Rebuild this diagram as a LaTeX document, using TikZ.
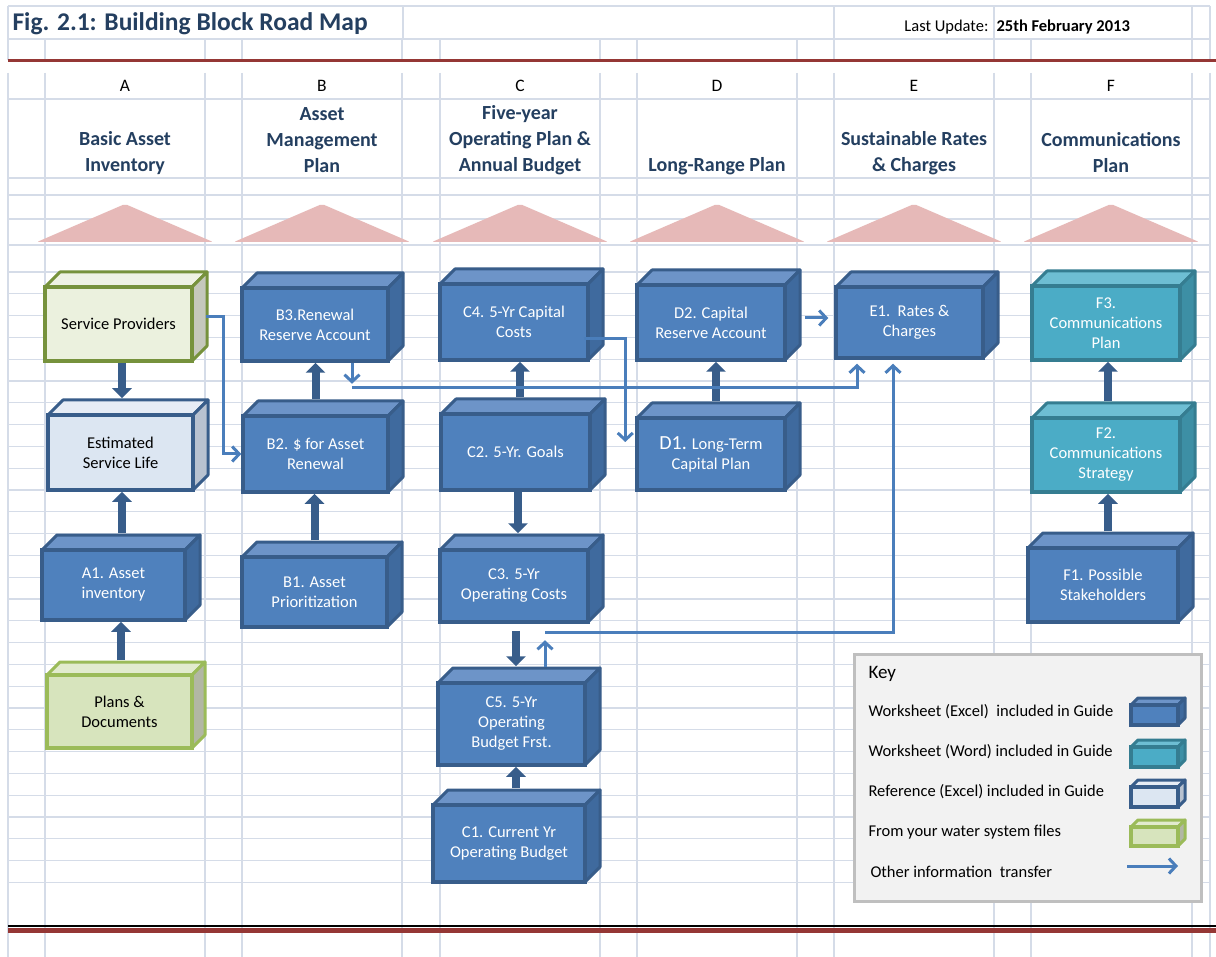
\documentclass[tikz,border=0pt]{standalone}
\usepackage{fontspec}
\setmainfont{Carlito}
\usepackage{tikz}
\usetikzlibrary{arrows.meta}
\definecolor{gridcol}{HTML}{D5DCE8}
\definecolor{rulered}{HTML}{953735}
\definecolor{headblue}{HTML}{243F60}
\definecolor{roofpink}{HTML}{E6B9B8}
\definecolor{wsfront}{HTML}{4F81BD}
\definecolor{wsedge}{HTML}{385D8A}
\definecolor{wstop}{HTML}{6D94C8}
\definecolor{wsside}{HTML}{3F6A9E}
\definecolor{wordfront}{HTML}{4BACC6}
\definecolor{wordedge}{HTML}{357D91}
\definecolor{wordtop}{HTML}{6EBED3}
\definecolor{wordside}{HTML}{3D8FA5}
\definecolor{reffront}{HTML}{DCE6F2}
\definecolor{reftop}{HTML}{E6ECF5}
\definecolor{refside}{HTML}{B8C2D0}
\definecolor{filefront}{HTML}{D7E4BD}
\definecolor{fileedge}{HTML}{9BBB59}
\definecolor{filetop}{HTML}{E2EBCF}
\definecolor{fileside}{HTML}{B2B7A4}
\definecolor{provfront}{HTML}{EBF1DE}
\definecolor{provedge}{HTML}{76923C}
\definecolor{provtop}{HTML}{EEF2E4}
\definecolor{provside}{HTML}{C5C8BC}
\definecolor{infoblue}{HTML}{4A7EBB}
\definecolor{keyfill}{HTML}{F2F2F2}
\definecolor{keyedge}{HTML}{BFBFBF}
\tikzset{
  gridline/.style={gridcol, line width=1.1pt},
  roof/.style={fill=roofpink, rounded corners=2pt},
  colletter/.style={font=\fontsize{17.5}{20}\selectfont},
  colhead/.style={font=\bfseries\fontsize{20}{26}\selectfont, text=headblue, align=center},
  box/.style={draw, line width=3.5pt, inner sep=2pt, align=center, font=\fontsize{16.5}{20}\selectfont},
  ws/.style={fill=wsfront, draw=wsedge, text=white},
  ws top/.style={fill=wstop, draw=wsedge, line width=3pt, line join=round},
  ws side/.style={fill=wsside, draw=wsedge, line width=3pt, line join=round},
  word/.style={fill=wordfront, draw=wordedge, text=white},
  word top/.style={fill=wordtop, draw=wordedge, line width=3pt, line join=round},
  word side/.style={fill=wordside, draw=wordedge, line width=3pt, line join=round},
  ref/.style={fill=reffront, draw=wsedge, text=black},
  ref top/.style={fill=reftop, draw=wsedge, line width=3pt, line join=round},
  ref side/.style={fill=refside, draw=wsedge, line width=3pt, line join=round},
  file/.style={fill=filefront, draw=fileedge, text=black},
  file top/.style={fill=filetop, draw=fileedge, line width=3pt, line join=round},
  file side/.style={fill=fileside, draw=fileedge, line width=3pt, line join=round},
  prov/.style={fill=provfront, draw=provedge, text=black},
  prov top/.style={fill=provtop, draw=provedge, line width=3pt, line join=round},
  prov side/.style={fill=provside, draw=provedge, line width=3pt, line join=round},
  bigarrow/.style={wsedge, line width=8pt, -{Triangle[length=10pt,width=19pt]}},
  info/.style={infoblue, line width=3pt, -{Straight Barb[length=7pt,width=15pt]}},
  keybox/.style={draw=keyedge, fill=keyfill, line width=3pt},
  keytext/.style={anchor=west, font=\fontsize{16.5}{18}\selectfont},
}
% block with top and side face: [depth]{name}{kind}{x1}{y1}{x2}{y2}{text}
\newcommand{\roadbox}[8][15]{%
  \filldraw[#3 top] (#4,#5) -- ++(#1,-#1) -- ({#6+#1},{#5-#1}) -- (#6,#5) -- cycle;
  \filldraw[#3 side] (#6,#5) -- ++(#1,-#1) -- ({#6+#1},{#7-#1}) -- (#6,#7) -- cycle;
  \node[box, #3, minimum width={(#6-#4)*1pt}, minimum height={(#7-#5)*1pt}] (#2) at ({(#4+#6)/2},{(#5+#7)/2}) {#8};
}

\begin{document}
\begin{tikzpicture}[x=1pt, y=-1pt]
\useasboundingbox[fill=white] (0,0) rectangle (1216,957);
% spreadsheet grid
\foreach \gx in {8,403,834,994,1192,1210} \draw[gridline] (\gx,6) -- (\gx,39);
\foreach \gx in {8,45,205,242,402,440,600,637,797,834,994,1031,1192,1210}
  \draw[gridline] (\gx,39) -- (\gx,60) (\gx,73) -- (\gx,957);
\foreach \gy in {6,39,99,178,195,219,245} \draw[gridline] (8,\gy) -- (1210,\gy);
\foreach \k in {0,...,28} \draw[gridline] (8,{272+21.8*\k}) -- (1210,{272+21.8*\k});
\fill[rulered] (8,59.5) rectangle (1216,62.5);
\draw[black, line width=2pt] (8,926) -- (1216,926);
\fill[rulered] (8,927.5) rectangle (1216,933);

% title
\node[anchor=west, font=\bfseries\fontsize{25.5}{28}\selectfont, text=headblue] (title) at (9,24) {Fig. 2.1: Building Block Road Map};
\node[anchor=east, font=\fontsize{16.5}{18}\selectfont] (upd) at (992,27) {Last Update:};
\node[anchor=west, font=\bfseries\fontsize{16.5}{18}\selectfont] (upddate) at (993,27) {25th February 2013};

% columns
\foreach \cx/\lt in {125/A,322/B,520/C,717/D,914/E,1111/F}{
  \node[colletter] (col\lt) at (\cx,86) {\lt};
  \fill[roof] ({\cx-88},242) -- (\cx,204) -- ({\cx+88},242) -- cycle;
}
\node[colhead] (hA) at (125,153) {Basic Asset\\Inventory};
\node[colhead] (hB) at (322,140) {Asset\\Management\\Plan};
\node[colhead] (hC) at (520,140) {Five-year\\Operating Plan \&\\Annual Budget};
\node[colhead] (hD) at (717,166) {Long-Range Plan};
\node[colhead] (hE) at (914,153) {Sustainable Rates\\\& Charges};
\node[colhead] (hF) at (1111,153) {Communications\\Plan};

% column A
\roadbox{sp}{prov}{45}{287}{192}{361}{Service Providers}
\roadbox{esl}{ref}{48}{415}{193}{490}{Estimated\\Service Life}
\roadbox{a1}{ws}{42}{550}{185}{620}{A1. Asset\\inventory}
\roadbox[13]{pd}{file}{47}{675}{192}{748}{Plans \&\\Documents}
% column B
\roadbox{b3}{ws}{242}{288}{388}{361}{B3.Renewal\\Reserve Account}
\roadbox{b2}{ws}{243}{416}{388}{492}{B2. \$ for Asset\\Renewal}
\roadbox{b1}{ws}{242}{557}{387}{627}{B1. Asset\\Prioritization}
% column C
\roadbox{c4}{ws}{440}{284}{588}{360}{C4. 5-Yr Capital\\Costs}
\roadbox{c2}{ws}{441}{414}{590}{490}{C2. 5-Yr. Goals}
\roadbox{c3}{ws}{440}{550}{588}{622}{C3. 5-Yr\\Operating Costs}
\roadbox{c5}{ws}{438}{683}{585}{765}{C5. 5-Yr\\Operating\\Budget Frst.}
\roadbox{c1}{ws}{433}{805}{585}{882}{C1. Current Yr\\Operating Budget}
% column D
\roadbox{d2}{ws}{637}{285}{785}{360}{D2. Capital\\Reserve Account}
\roadbox{d1}{ws}{637}{418}{785}{490}{{\fontsize{20}{20}\selectfont D1.} Long-Term\\Capital Plan}
% column E
\roadbox{e1}{ws}{836}{287}{983}{358}{E1.\ \ Rates \&\\Charges}
% column F
\roadbox{f3}{word}{1032}{286}{1180}{360}{F3.\\Communications\\Plan}
\roadbox{f2}{word}{1032}{418}{1180}{492}{F2.\\Communications\\Strategy}
\roadbox{f1}{ws}{1028}{548}{1178}{622}{F1. Possible\\Stakeholders}

% block arrows
\draw[bigarrow, shorten >=15pt] ([xshift=3.5pt]sp.south) -- ([xshift=1.5pt]esl.north);
\draw[bigarrow] ([xshift=8.5pt,yshift=15pt]a1.north) -- ([xshift=1.5pt]esl.south);
\draw[bigarrow] ([xshift=1.5pt,yshift=13pt]pd.north) -- ([xshift=7.5pt]a1.south);
\draw[bigarrow] ([yshift=15pt]b2.north) -- (b2.north |- b3.south);
\draw[bigarrow] ([yshift=15pt]b1.north) -- (b1.north |- b2.south);
\draw[bigarrow] ([xshift=4.5pt,yshift=15pt]c2.north) -- ([xshift=6pt]c4.south);
\draw[bigarrow, shorten >=15pt] ([xshift=2.5pt]c2.south) -- ([xshift=4pt]c3.north);
\draw[bigarrow, shorten <=7pt, shorten >=15pt] ([xshift=2pt]c3.south) -- ([xshift=4.5pt]c5.north);
\draw[bigarrow] ([xshift=7pt,yshift=15pt]c1.north) -- ([xshift=4.5pt]c5.south);
\draw[bigarrow] ([xshift=5pt,yshift=15pt]d1.north) -- ([xshift=5pt]d2.south);
\draw[bigarrow] ([xshift=2pt,yshift=15pt]f2.north) -- ([xshift=2pt]f3.south);
\draw[bigarrow] ([xshift=5pt,yshift=15pt]f1.north) -- ([xshift=2pt]f2.south);

% information transfer lines
\draw[info] ([xshift=12pt,yshift=7pt]sp.east) -- ++(18,0) |- (b2.west);
\draw[info] ([xshift=-6pt,yshift=-16.5pt]c4.east) -| ([xshift=-10pt,yshift=12pt]d1.west);
\draw[info] ([xshift=37pt]b3.south) -- ++(0,21);
\draw[info] ([xshift=37pt,yshift=-25pt]b3.south) -| ([xshift=-52.5pt,yshift=-4pt]e1.south);
\draw[info] ([xshift=18pt,yshift=4.5pt]d2.east) -- ([xshift=-6pt,yshift=4.5pt]e1.west);
\draw[info] ([xshift=33.5pt,yshift=14pt]c5.north) -- ++(0,-27);
\draw[info] ([xshift=33.5pt,yshift=49pt]c5.north) -| ([xshift=-16.5pt,yshift=-4pt]e1.south);

% key
\node[keybox, anchor=north west, minimum width=347pt, minimum height=247pt] (key) at (853,653) {};
\node[keytext, font=\fontsize{19}{20}\selectfont] (k0) at (865,674) {Key};
\node[keytext] (k1) at (865,712) {Worksheet (Excel)\ \ included in Guide};
\node[keytext] (k2) at (865,752) {Worksheet (Word) included in Guide};
\node[keytext] (k3) at (865,792) {Reference (Excel) included in Guide};
\node[keytext] (k4) at (865,832) {From your water system files};
\node[keytext] (k5) at (867,872) {Other information\ \ transfer};
\roadbox[7]{kws}{ws}{1131}{705}{1178}{725}{}
\roadbox[7]{kword}{word}{1131}{747}{1178}{767}{}
\roadbox[7]{kref}{ref}{1131}{787}{1178}{807}{}
\roadbox[7]{kfile}{file}{1131}{827}{1178}{846}{}
\coordinate (karrowa) at (1127,866);
\coordinate (karrowb) at (1178,866);
\draw[info] (karrowa) -- (karrowb);
\end{tikzpicture}
\end{document}
